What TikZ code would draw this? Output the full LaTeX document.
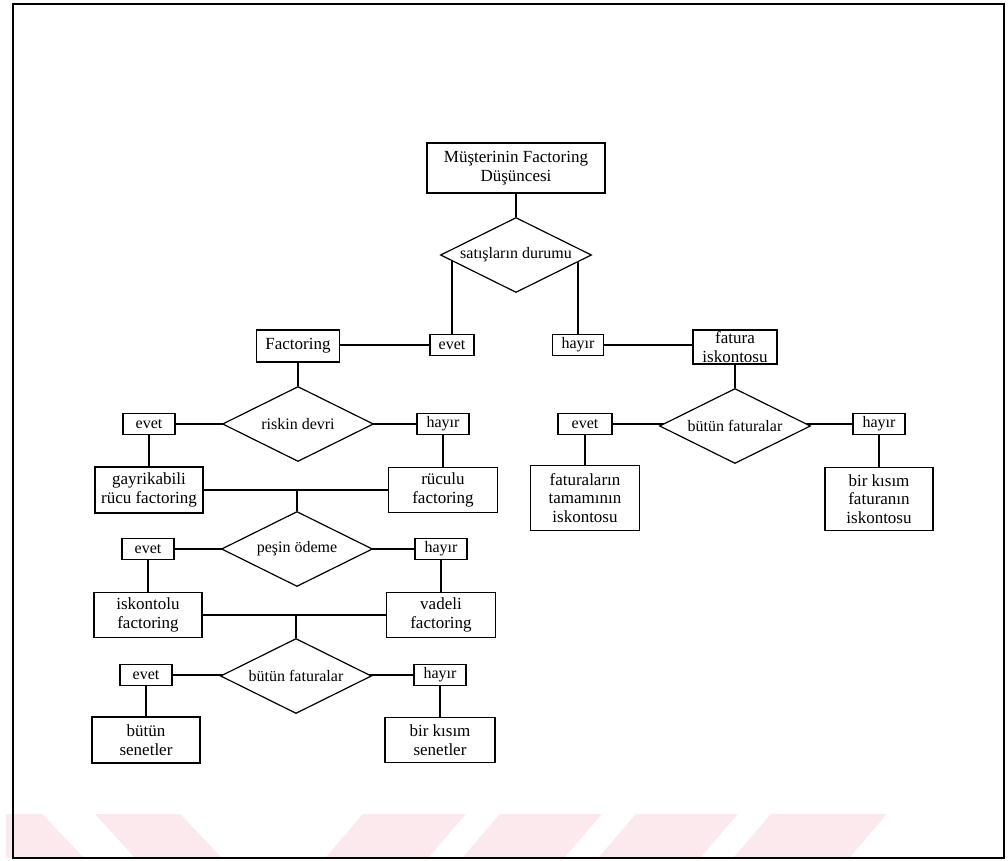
\documentclass[tikz,border=0pt]{standalone}
\usepackage{fontspec}
\setmainfont{Liberation Serif}
\usetikzlibrary{shapes.geometric,backgrounds}
\definecolor{wmpink}{RGB}{252,233,237}
\tikzset{
    kutu/.style={draw, fill=white, line width=0.6pt, inner sep=1pt, align=center, font=\fontsize{8.5}{9.2}\selectfont},
    etiket/.style={draw, fill=white, line width=0.6pt, inner sep=0pt, minimum width=26pt, minimum height=10.5pt, font=\fontsize{8}{8.5}\selectfont},
    karar/.style={draw, diamond, fill=white, line width=0.6pt, inner sep=0pt, aspect=2, minimum width=75.5pt, minimum height=37.5pt, font=\fontsize{8}{9}\selectfont},
    cizgi/.style={line width=0.6pt}
}
\begin{document}
\begin{tikzpicture}[x=0.5pt, y=-0.5pt]
        \useasboundingbox (0,0) rectangle (1008,861);
        \node[kutu, minimum width=89pt, minimum height=25pt] (musteri) at (516,168) {Müşterinin Factoring\\Düşüncesi};
        \node[karar] (satis) at (516,255) {satışların durumu};
        \node[etiket, minimum width=22pt] (evet1) at (452,345) {evet};
        \node[etiket, minimum width=25.5pt] (hayir1) at (578,345) {hayır};
        \node[kutu, minimum width=41.5pt, minimum height=16pt] (factoring) at (298,346) {Factoring};
        \node[kutu, minimum width=42pt, minimum height=17pt, inner sep=0.5pt] (fatura) at (735,347) {fatura\\iskontosu};
        % sol kol
        \node[karar] (riskin) at (298,424) {riskin devri};
        \node[etiket] (evet2) at (149,424) {evet};
        \node[etiket] (hayir2) at (443,424) {hayır};
        \node[kutu, minimum width=54pt, minimum height=23pt] (gayri) at (149,490) {gayrikabili\\rücu factoring};
        \node[kutu, minimum width=54.5pt, minimum height=22.5pt] (ruculu) at (443,490) {rüculu\\factoring};
        \node[karar] (pesin) at (297,549) {peşin ödeme};
        \node[etiket] (evet3) at (148,549) {evet};
        \node[etiket] (hayir3) at (441,549) {hayır};
        \node[kutu, minimum width=54pt, minimum height=22.5pt] (iskontolu) at (148,615) {iskontolu\\factoring};
        \node[kutu, minimum width=54.5pt, minimum height=22.5pt] (vadeli) at (441,615) {vadeli\\factoring};
        \node[karar] (butun1) at (296,676) {bütün faturalar};
        \node[etiket] (evet4) at (146,675) {evet};
        \node[etiket] (hayir4) at (440,675) {hayır};
        \node[kutu, minimum width=54pt, minimum height=23pt] (senetler) at (146,740) {bütün\\senetler};
        \node[kutu, minimum width=55pt, minimum height=22.5pt] (kisimsenet) at (440,740) {bir kısım\\senetler};
        % sag kol
        \node[karar] (butun2) at (735,426) {bütün faturalar};
        \node[etiket, minimum width=27pt] (evet5) at (585,424) {evet};
        \node[etiket] (hayir5) at (879,424) {hayır};
        \node[kutu, minimum width=54.5pt, minimum height=32.5pt] (tamami) at (585,498) {faturaların\\tamamının\\iskontosu};
        \node[kutu, minimum width=54pt, minimum height=31.5pt] (kisimfatura) at (879,499) {bir kısım\\faturanın\\iskontosu};
        \begin{scope}[on background layer]
            \fill[wmpink] (6,814) -- (42,814) -- (84,858) -- (6,858) -- cycle;
            \fill[wmpink] (95,814) -- (180,814) -- (222,858) -- (135,858) -- cycle;
            \foreach \x/\w in {363/103,500/102,636/102,771/116}{
                \fill[wmpink] (\x,814) -- ++(\w,0) -- ++(-38,44) -- ++(-\w,0) -- cycle;
            }
            \draw[cizgi] (musteri) -- (satis);
            \draw[cizgi] (evet1) -- (evet1 |- satis);
            \draw[cizgi] (hayir1) -- (hayir1 |- satis);
            \draw[cizgi] (evet1) -- (evet1 -| factoring);
            \draw[cizgi] (hayir1) -- (hayir1 -| fatura);
            \draw[cizgi] (factoring) -- (riskin);
            \draw[cizgi] (evet2) -- (hayir2);
            \draw[cizgi] (evet2) -- (gayri);
            \draw[cizgi] (hayir2) -- (ruculu);
            \draw[cizgi] (gayri) -- (ruculu);
            \draw[cizgi] (pesin) -- (pesin |- gayri);
            \draw[cizgi] (evet3) -- (hayir3);
            \draw[cizgi] (evet3) -- (iskontolu);
            \draw[cizgi] (hayir3) -- (vadeli);
            \draw[cizgi] (iskontolu) -- (vadeli);
            \draw[cizgi] (butun1) -- (butun1 |- iskontolu);
            \draw[cizgi] (evet4) -- (hayir4);
            \draw[cizgi] (evet4) -- (senetler);
            \draw[cizgi] (hayir4) -- (kisimsenet);
            \draw[cizgi] (fatura) -- (butun2);
            \draw[cizgi] (evet5) -- (hayir5);
            \draw[cizgi] (evet5) -- (tamami);
            \draw[cizgi] (hayir5) -- (kisimfatura);
        \end{scope}
        \draw[line width=1pt] (13,4) rectangle (1004,858);
\end{tikzpicture}
\end{document}
